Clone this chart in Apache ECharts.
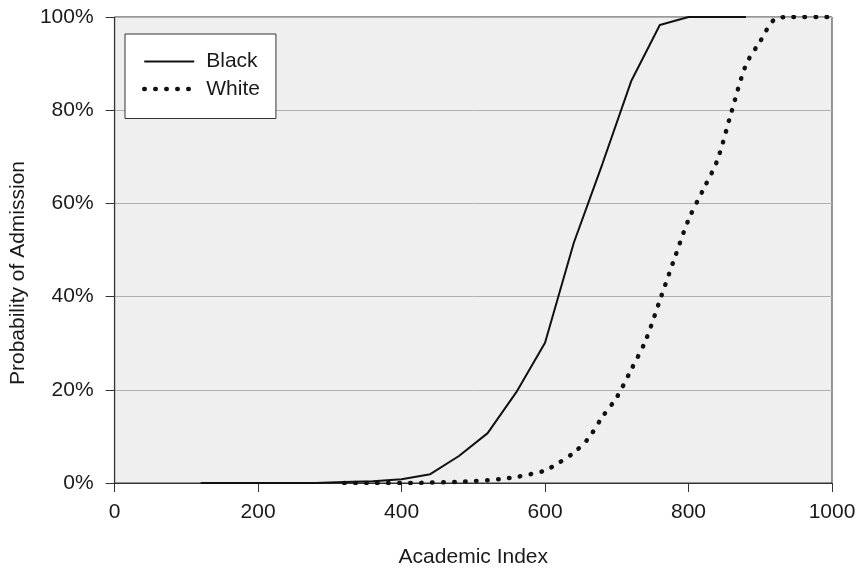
<!DOCTYPE html>
<html>
<head>
<meta charset="utf-8">
<script src="https://cdn.jsdelivr.net/npm/echarts@6/dist/echarts.min.js"></script>
<style>
html,body{margin:0;padding:0;background:#fff;}
#chart{width:860px;height:573px;}
</style>
</head>
<body>
<div id="chart"></div>
<script>
var blackX = [120,160,200,240,280,320,360,400,440,480,520,560,600,640,680,720,760,800,840,880];
var blackY = [0,0,0,0,0,0.2,0.4,0.8,1.9,5.8,10.7,19.5,30.1,51.5,68.5,86.2,98.3,100,100,100];
var whiteX = [320,340,360,380,400,420,440,460,480,500,520,540,560,580,600,620,640,660,680,700,720,740,760,780,800,820,840,860,880,900,920,940,960,980,1000];
var whiteY = [0,0,0,0,0,0,0.1,0.15,0.25,0.4,0.6,0.9,1.3,1.9,2.7,4.4,6.5,9.5,14.2,18.4,24.3,30.5,39.2,48,56.5,62.8,69.2,79.7,89.7,94.8,99.5,100,100,100,100];
var xTicks = [0,200,400,600,800,1000];
var yTicks = [0,20,40,60,80,100];

function pairs(xs, ys){ return xs.map(function(x,i){ return [x, ys[i]]; }); }

var font = 'Liberation Sans, Arial, sans-serif';
var txt = '#1a1a1a';
var chart = echarts.init(document.getElementById('chart'), null, {renderer:'canvas'});
chart.setOption({
  animation:false,
  backgroundColor:'#ffffff',
  grid:{left:114,right:28,top:17,bottom:90,show:true,backgroundColor:'#efefef',borderColor:'#333',borderWidth:1},
  legend:{
    left:125, top:34,
    orient:'vertical',
    padding:[17,16,19,17],
    itemGap:6.5,
    itemWidth:50, itemHeight:21,
    backgroundColor:'#ffffff', borderColor:'#333', borderWidth:1,
    itemStyle:{opacity:0},
    lineStyle:{width:'inherit'},
    textStyle:{fontFamily:font,fontSize:21,color:txt,lineHeight:21,padding:[0,0,0,7]},
    data:['Black','White']
  },
  xAxis:{
    type:'value', min:xTicks[0], max:xTicks[xTicks.length-1], interval:xTicks[1]-xTicks[0],
    name:'Academic Index', nameLocation:'middle', nameGap:64,
    nameTextStyle:{fontFamily:font,fontSize:21,color:txt},
    axisLine:{show:true,onZero:false,lineStyle:{color:'#333',width:1.2}},
    axisTick:{show:true,inside:false,length:9,lineStyle:{color:'#333'}},
    axisLabel:{fontFamily:font,fontSize:21,color:txt,margin:19,formatter:function(v){return String(v);}},
    splitLine:{show:false}
  },
  yAxis:{
    type:'value', min:yTicks[0], max:yTicks[yTicks.length-1], interval:yTicks[1]-yTicks[0],
    name:'Probability of Admission', nameLocation:'middle', nameGap:81,
    nameTextStyle:{fontFamily:font,fontSize:21,color:txt,padding:[0,46,0,0]},
    axisLine:{show:true,lineStyle:{color:'#333',width:1.2}},
    axisTick:{show:true,inside:false,length:9,lineStyle:{color:'#333'}},
    axisLabel:{fontFamily:font,fontSize:21,color:txt,margin:21,formatter:function(v){return v+'%';}},
    splitLine:{show:true,lineStyle:{color:'#b0b0b0',width:1}}
  },
  series:[
    {name:'Black',type:'line',symbol:'none',data:pairs(blackX,blackY),
     lineStyle:{color:'#111',width:2,type:'solid'},itemStyle:{color:'#111'}},
    {name:'White',type:'line',symbol:'none',smooth:0.3,data:pairs(whiteX,whiteY),
     lineStyle:{color:'#111',width:4.5,type:[0.5,10.5],cap:'round'},itemStyle:{color:'#111'}}
  ]
});
</script>
</body>
</html>
